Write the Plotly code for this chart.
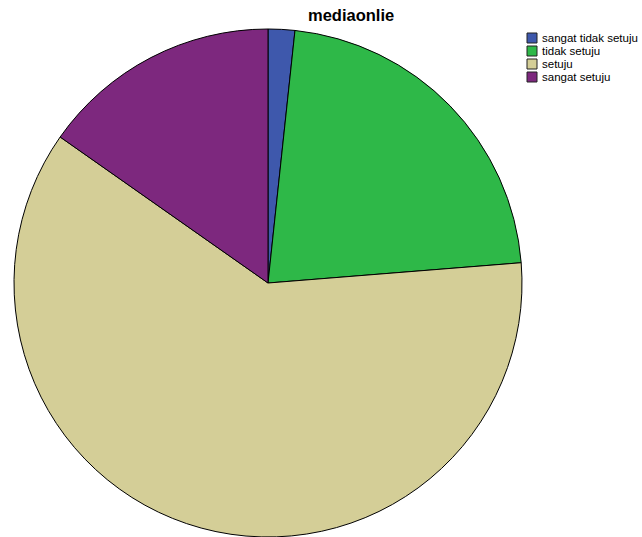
import plotly.graph_objects as go

# Response counts for the "mediaonlie" item
categories = ["sangat tidak setuju", "tidak setuju", "setuju", "sangat setuju"]
counts = [1, 13, 36, 9]
colors = ["#3E58AC", "#2EB848", "#D4CE97", "#7D287E"]

W, H = 642, 537

fig = go.Figure(
    go.Pie(
        labels=categories,
        values=counts,
        sort=False,
        direction="clockwise",
        rotation=0,
        textinfo="none",
        hoverinfo="label+value+percent",
        marker=dict(colors=colors, line=dict(color="#000000", width=1)),
        domain=dict(x=[13 / W, 523 / W], y=[0, (H - 29) / H]),
        showlegend=False,
    )
)

# Legend drawn as swatches + labels
shapes = []
annotations = []
for i, (name, col) in enumerate(zip(categories, colors)):
    yc = 38 + i * 13
    shapes.append(dict(
        type="rect", xref="paper", yref="paper",
        x0=527 / W, x1=537 / W,
        y0=1 - (yc + 5) / H, y1=1 - (yc - 5) / H,
        fillcolor=col, line=dict(color="#222222", width=1),
    ))
    annotations.append(dict(
        text=name, xref="paper", yref="paper",
        x=540 / W, y=1 - yc / H, xanchor="left", yanchor="middle",
        showarrow=False, font=dict(family="Arial, Liberation Sans", size=11.5, color="#000000"),
    ))

annotations.append(dict(
    text="<b>mediaonlie</b>", xref="paper", yref="paper",
    x=351 / W, y=1 - 15 / H, xanchor="center", yanchor="middle",
    showarrow=False, font=dict(family="Arial, Liberation Sans", size=16.5, color="#000000"),
))

fig.update_layout(
    width=W, height=H,
    margin=dict(l=0, r=0, t=0, b=0),
    paper_bgcolor="white", plot_bgcolor="white",
    shapes=shapes, annotations=annotations,
)

fig.write_html("out.html")
